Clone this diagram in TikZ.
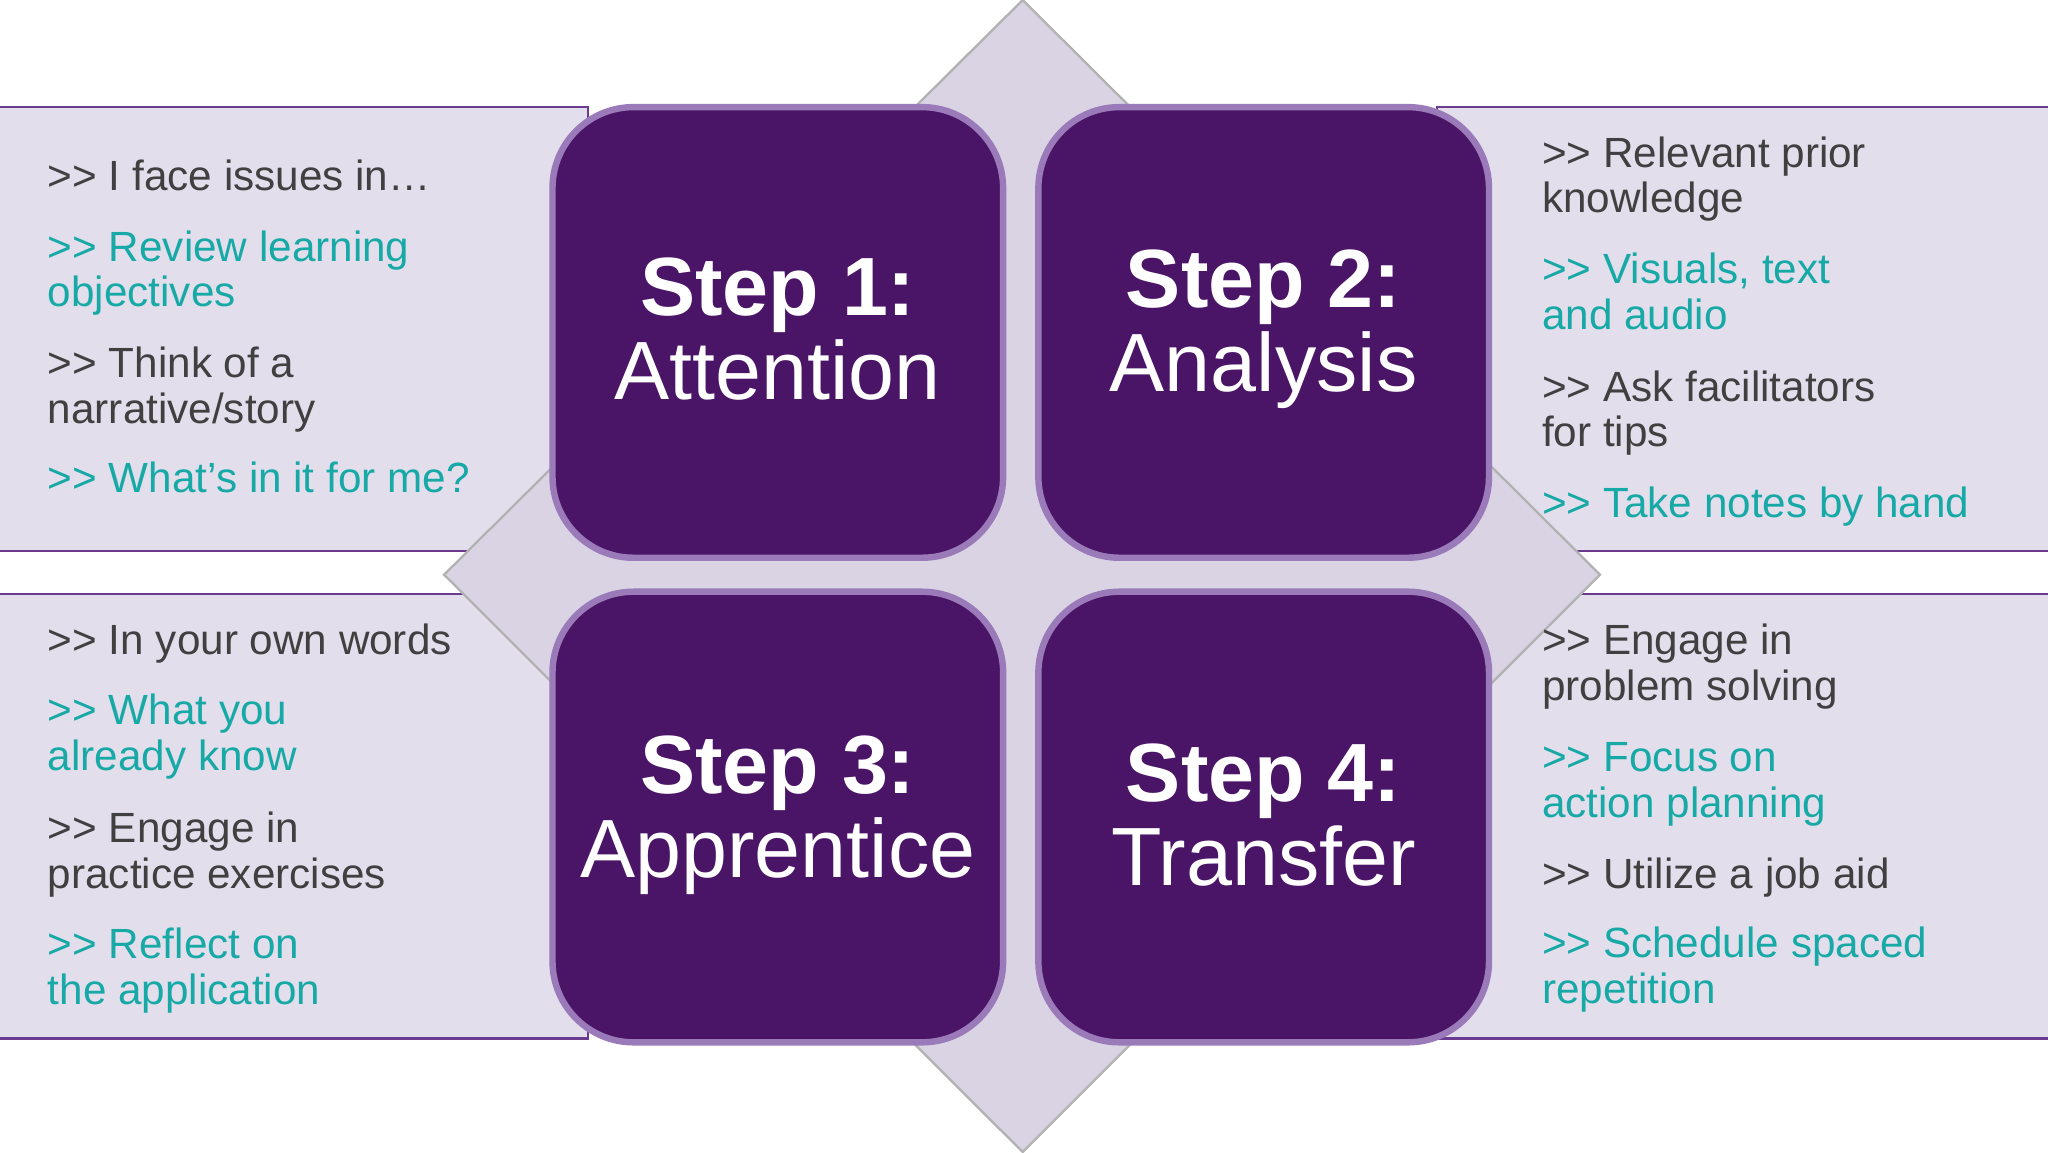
\documentclass[tikz,border=0pt]{standalone}
\usepackage{fontspec}
\setmainfont{Liberation Sans}
\newcommand\gtgt{{>}{>}}
\definecolor{boxfill}{HTML}{4A1566}
\definecolor{boxedge}{HTML}{9A7AB8}
\definecolor{panel}{HTML}{E3DEEC}
\definecolor{panedge}{HTML}{6A3B8E}
\definecolor{diam}{HTML}{D9D3E4}
\definecolor{gtext}{HTML}{404040}
\definecolor{ttext}{HTML}{17A9A6}
\tikzset{
  panelbox/.style={fill=panel,draw=panedge,line width=0.5pt},
  stepbox/.style={fill=boxfill,draw=boxedge,line width=1.4pt,rounded corners=0.62cm},
  steptext/.style={text=white,align=center,font=\fontsize{18}{17}\selectfont},
  gl/.style={text=gtext,anchor=base west,inner sep=0pt,font=\fontsize{9.2}{10}\selectfont},
  tl/.style={text=ttext,anchor=base west,inner sep=0pt,font=\fontsize{9.2}{10}\selectfont},
}
\begin{document}
\begin{tikzpicture}[x=1cm,y=1cm]
\useasboundingbox (0,0) rectangle (15.68,-8.82);
\fill[white] (0,0) rectangle (15.68,-8.82);
% panels
\draw[panelbox] (-0.1,-0.82) rectangle (4.5,-4.22);
\draw[panelbox] (-0.1,-4.55) rectangle (4.5,-7.95);
\draw[panelbox] (11.0,-0.82) rectangle (15.78,-4.22);
\draw[panelbox] (11.0,-4.55) rectangle (15.78,-7.95);
% diamond
\draw[fill=diam,draw=gray!60,line width=0.5pt] (7.83,0) -- (12.25,-4.40) -- (7.83,-8.82) -- (3.40,-4.40) -- cycle;
% step boxes
\draw[stepbox] (4.23,-0.82) rectangle (7.68,-4.27);
\draw[stepbox] (7.95,-0.82) rectangle (11.40,-4.27);
\draw[stepbox] (4.23,-4.53) rectangle (7.68,-7.98);
\draw[stepbox] (7.95,-4.53) rectangle (11.40,-7.98);
\node[steptext] (s1) at (5.955,-2.52) {\textbf{Step 1:}\\[0.05cm]Attention};
\node[steptext] (s2) at (9.675,-2.52) {\textbf{Step 2:}\\[0.05cm]Analysis};
\node[steptext] (s3) at (5.955,-6.24) {\textbf{Step 3:}\\[0.05cm]Apprentice};
\node[steptext] (s4) at (9.675,-6.24) {\textbf{Step 4:}\\[0.05cm]Transfer};
% left top
\node[gl] (a1) at (0.36,-1.46) {\gtgt{} I face issues in\ldots};
\node[tl] (a2) at (0.36,-2.00) {\gtgt{} Review learning};
\node[tl] (a3) at (0.36,-2.35) {objectives};
\node[gl] (a4) at (0.36,-2.89) {\gtgt{} Think of a};
\node[gl] (a5) at (0.36,-3.24) {narrative/story};
\node[tl] (a6) at (0.36,-3.77) {\gtgt{} What’s in it for me?};
% left bottom
\node[gl] (b1) at (0.36,-5.01) {\gtgt{} In your own words};
\node[tl] (b2) at (0.36,-5.55) {\gtgt{} What you};
\node[tl] (b3) at (0.36,-5.90) {already know};
\node[gl] (b4) at (0.36,-6.45) {\gtgt{} Engage in};
\node[gl] (b5) at (0.36,-6.80) {practice exercises};
\node[tl] (b6) at (0.36,-7.34) {\gtgt{} Reflect on};
\node[tl] (b7) at (0.36,-7.69) {the application};
% right top
\node[gl] (c1) at (11.80,-1.28) {\gtgt{} Relevant prior};
\node[gl] (c2) at (11.80,-1.63) {knowledge};
\node[tl] (c3) at (11.80,-2.17) {\gtgt{} Visuals, text};
\node[tl] (c4) at (11.80,-2.52) {and audio};
\node[gl] (c5) at (11.80,-3.07) {\gtgt{} Ask facilitators};
\node[gl] (c6) at (11.80,-3.42) {for tips};
\node[tl] (c7) at (11.80,-3.96) {\gtgt{} Take notes by hand};
% right bottom
\node[gl] (d1) at (11.80,-5.01) {\gtgt{} Engage in};
\node[gl] (d2) at (11.80,-5.36) {problem solving};
\node[tl] (d3) at (11.80,-5.91) {\gtgt{} Focus on};
\node[tl] (d4) at (11.80,-6.26) {action planning};
\node[gl] (d5) at (11.80,-6.80) {\gtgt{} Utilize a job aid};
\node[tl] (d6) at (11.80,-7.33) {\gtgt{} Schedule spaced};
\node[tl] (d7) at (11.80,-7.68) {repetition};
\end{tikzpicture}
\end{document}
